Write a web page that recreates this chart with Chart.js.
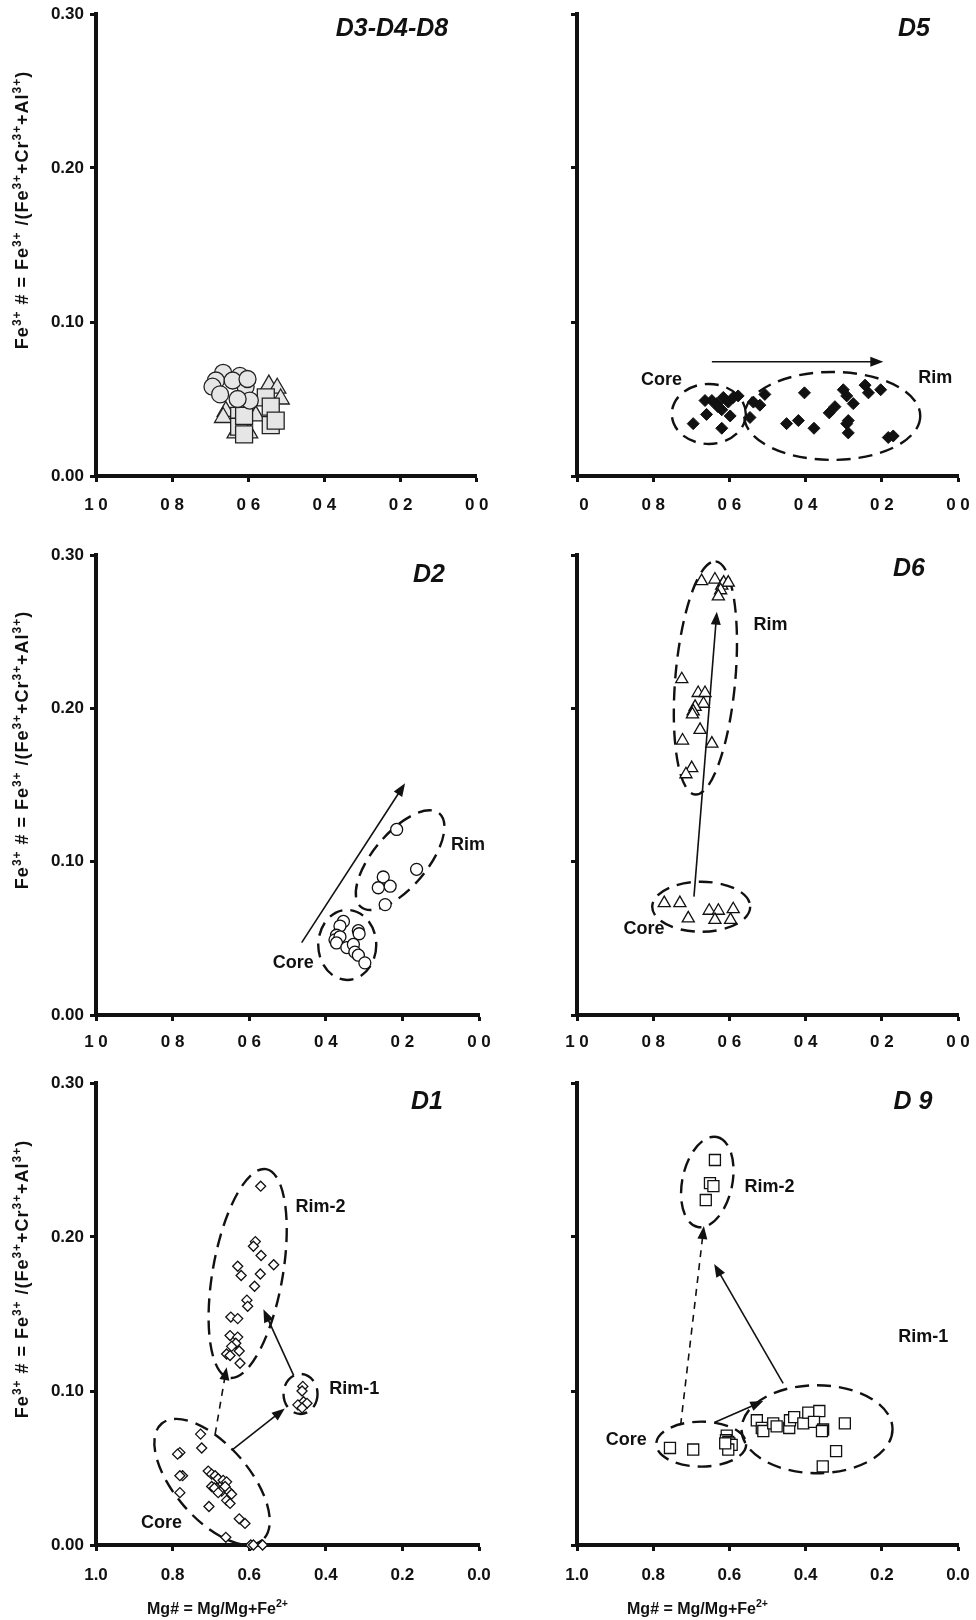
<!DOCTYPE html>
<html>
<head>
<meta charset="utf-8">
<script src="https://cdn.jsdelivr.net/npm/chart.js@4.4.0/dist/chart.umd.min.js"></script>
<style>
  html, body { margin: 0; padding: 0; background: #fff; }
  #wrap { position: relative; width: 976px; height: 1620px; overflow: hidden; }
  canvas { position: absolute; }
</style>
</head>
<body>
<div id="wrap">
  <canvas id="c1"></canvas>
  <canvas id="c2"></canvas>
  <canvas id="c3"></canvas>
  <canvas id="c4"></canvas>
  <canvas id="c5"></canvas>
  <canvas id="c6"></canvas>
</div>
<script>
/* ===== Datos (Mg#, Fe3+#) ===== */
// ticks
const xTickValues = [1.0, 0.8, 0.6, 0.4, 0.2, 0.0];
const xTickLabelsSpaced = ['1 0', '0 8', '0 6', '0 4', '0 2', '0 0'];
const xTickLabelsD5 = ['\u2007 0', '0 8', '0 6', '0 4', '0 2', '0 0'];
const xTickLabelsDot = ['1.0', '0.8', '0.6', '0.4', '0.2', '0.0'];
const yTickValues = [0.0, 0.1, 0.2, 0.3];
const yTickLabels = ['0.00', '0.10', '0.20', '0.30'];

// D3-D4-D8
const d348CircleMg = [0.666, 0.685, 0.694, 0.674, 0.622, 0.607, 0.596, 0.628, 0.641, 0.602];
const d348CircleFe = [0.067, 0.062, 0.058, 0.053, 0.065, 0.058, 0.049, 0.050, 0.062, 0.063];
const d348TriMg = [0.546, 0.524, 0.515, 0.659, 0.633, 0.598, 0.580, 0.666];
const d348TriFe = [0.059, 0.057, 0.050, 0.042, 0.028, 0.028, 0.039, 0.038];
const d348SqMg = [0.554, 0.624, 0.624, 0.611, 0.541, 0.541, 0.528, 0.611];
const d348SqFe = [0.051, 0.039, 0.032, 0.027, 0.045, 0.033, 0.036, 0.039];

// D5
const d5Mg = [0.695, 0.660, 0.664, 0.646, 0.633, 0.616, 0.603, 0.590, 0.577, 0.620, 0.598, 0.620, 0.630,
  0.546, 0.537, 0.520, 0.507, 0.450, 0.419, 0.403, 0.378, 0.338, 0.323, 0.301, 0.292, 0.275, 0.288,
  0.292, 0.288, 0.244, 0.235, 0.203, 0.183, 0.170];
const d5Fe = [0.034, 0.040, 0.049, 0.049, 0.047, 0.051, 0.048, 0.051, 0.052, 0.043, 0.039, 0.031, 0.045,
  0.038, 0.048, 0.046, 0.053, 0.034, 0.036, 0.054, 0.031, 0.041, 0.045, 0.056, 0.052, 0.047, 0.036,
  0.034, 0.028, 0.059, 0.054, 0.056, 0.025, 0.026];

// D2
const d2Mg = [0.215, 0.163, 0.250, 0.232, 0.263, 0.245, 0.354, 0.363, 0.315, 0.313, 0.372, 0.376, 0.363,
  0.372, 0.345, 0.328, 0.324, 0.315, 0.298];
const d2Fe = [0.121, 0.095, 0.090, 0.084, 0.083, 0.072, 0.061, 0.058, 0.055, 0.053, 0.052, 0.049, 0.051,
  0.047, 0.044, 0.046, 0.041, 0.039, 0.034];

// D6
const d6Mg = [0.673, 0.638, 0.620, 0.615, 0.603, 0.623, 0.629, 0.725, 0.682, 0.664, 0.668, 0.690, 0.695,
  0.697, 0.677, 0.723, 0.646, 0.699, 0.714, 0.771, 0.730, 0.708, 0.653, 0.629, 0.638, 0.590, 0.597];
const d6Fe = [0.283, 0.284, 0.280, 0.282, 0.282, 0.277, 0.273, 0.219, 0.210, 0.210, 0.203, 0.201, 0.198,
  0.196, 0.186, 0.179, 0.177, 0.161, 0.157, 0.073, 0.073, 0.063, 0.068, 0.068, 0.062, 0.069, 0.062];

// D1
const d1Mg = [0.570, 0.584, 0.589, 0.569, 0.536, 0.630, 0.621, 0.571, 0.586, 0.606, 0.604, 0.648, 0.630,
  0.650, 0.630, 0.635, 0.646, 0.626, 0.659, 0.650, 0.624,
  0.460, 0.462, 0.458, 0.473, 0.449, 0.462,
  0.727, 0.724, 0.781, 0.787, 0.774, 0.781, 0.781, 0.707, 0.698, 0.689, 0.681, 0.668, 0.659, 0.698,
  0.685, 0.672, 0.654, 0.646, 0.659, 0.650, 0.691, 0.663, 0.681, 0.705, 0.626, 0.611, 0.661, 0.596,
  0.589, 0.565];
const d1Fe = [0.233, 0.197, 0.194, 0.188, 0.182, 0.181, 0.175, 0.176, 0.168, 0.159, 0.155, 0.148, 0.147,
  0.136, 0.135, 0.131, 0.129, 0.126, 0.124, 0.123, 0.118,
  0.103, 0.100, 0.093, 0.091, 0.092, 0.089,
  0.072, 0.063, 0.060, 0.059, 0.045, 0.045, 0.034, 0.048, 0.046, 0.045, 0.043, 0.042, 0.041, 0.038,
  0.037, 0.035, 0.035, 0.033, 0.029, 0.027, 0.037, 0.038, 0.034, 0.025, 0.017, 0.014, 0.005, 0.000,
  0.000, 0.000];

// D9
const d9Mg = [0.756, 0.695, 0.607, 0.609, 0.603, 0.600, 0.594, 0.603, 0.611,
  0.528, 0.515, 0.511, 0.485, 0.476, 0.443, 0.441, 0.430, 0.406, 0.393, 0.364, 0.378, 0.354, 0.357,
  0.297, 0.320, 0.355,
  0.638, 0.651, 0.642, 0.662];
const d9Fe = [0.063, 0.062, 0.071, 0.068, 0.067, 0.066, 0.065, 0.062, 0.066,
  0.081, 0.076, 0.074, 0.079, 0.077, 0.076, 0.081, 0.083, 0.079, 0.086, 0.087, 0.080, 0.075, 0.074,
  0.079, 0.061, 0.051,
  0.250, 0.235, 0.233, 0.224];

/* ===== Estilo ===== */
const FAMILY = '"Liberation Sans", Arial, sans-serif';
const INK = '#111';
const tickFont = { family: FAMILY, size: 17, weight: 'bold' };
const yTitleParts = [['Fe', 0], ['3+', 1], [' # = Fe', 0], ['3+', 1], [' /(Fe', 0], ['3+', 1],
  ['+Cr', 0], ['3+', 1], ['+Al', 0], ['3+', 1], [')', 0]];
const xTitleParts = [['Mg# = Mg/Mg+Fe', 0], ['2+', 1]];

function pts(xs, ys) { return xs.map((x, i) => ({ x: x, y: ys[i] })); }

function drawRich(ctx, parts, cx, cy, size, rotate, spacing) {
  ctx.save();
  ctx.translate(cx, cy);
  if (rotate) ctx.rotate(-Math.PI / 2);
  ctx.fillStyle = INK;
  ctx.textAlign = 'left';
  ctx.textBaseline = 'alphabetic';
  if ('letterSpacing' in ctx) ctx.letterSpacing = spacing || '0px';
  const sup = size * 0.66;
  let w = 0;
  parts.forEach(([t, s]) => { ctx.font = 'bold ' + (s ? sup : size) + 'px ' + FAMILY; w += ctx.measureText(t).width; });
  let x = -w / 2;
  parts.forEach(([t, s]) => {
    ctx.font = 'bold ' + (s ? sup : size) + 'px ' + FAMILY;
    ctx.fillText(t, x, s ? size * 0.36 - size * 0.42 : size * 0.36);
    x += ctx.measureText(t).width;
  });
  ctx.restore();
}

function drawArrow(ctx, x0, y0, x1, y1, dashed) {
  const ang = Math.atan2(y1 - y0, x1 - x0);
  const hl = 13, hw = 5;
  ctx.save();
  ctx.strokeStyle = INK; ctx.fillStyle = INK;
  ctx.lineWidth = 1.6;
  ctx.setLineDash(dashed ? [7, 6] : []);
  ctx.beginPath();
  ctx.moveTo(x0, y0);
  ctx.lineTo(x1 - Math.cos(ang) * hl * 0.8, y1 - Math.sin(ang) * hl * 0.8);
  ctx.stroke();
  ctx.setLineDash([]);
  ctx.beginPath();
  ctx.moveTo(x1, y1);
  ctx.lineTo(x1 - Math.cos(ang) * hl + Math.sin(ang) * hw, y1 - Math.sin(ang) * hl - Math.cos(ang) * hw);
  ctx.lineTo(x1 - Math.cos(ang) * hl - Math.sin(ang) * hw, y1 - Math.sin(ang) * hl + Math.cos(ang) * hw);
  ctx.closePath();
  ctx.fill();
  ctx.restore();
}

/* ===== Anotaciones (elipses, flechas, rótulos) ===== */
const overlay = {
  id: 'overlay',
  beforeDatasetsDraw(chart, args, o) {
    const ctx = chart.ctx, xs = chart.scales.x, ys = chart.scales.y;
    (o.ellipses || []).forEach(e => {
      ctx.save();
      ctx.strokeStyle = INK;
      ctx.lineWidth = 2.4;
      ctx.setLineDash([14, 8]);
      ctx.beginPath();
      ctx.ellipse(xs.getPixelForValue(e.x), ys.getPixelForValue(e.y), e.rx, e.ry, e.rot * Math.PI / 180, 0, Math.PI * 2);
      ctx.stroke();
      ctx.restore();
    });
    (o.arrows || []).forEach(a => {
      drawArrow(ctx, xs.getPixelForValue(a.from[0]), ys.getPixelForValue(a.from[1]),
        xs.getPixelForValue(a.to[0]), ys.getPixelForValue(a.to[1]), a.dashed);
    });
  },
  afterDatasetsDraw(chart, args, o) {
    const ctx = chart.ctx, xs = chart.scales.x, ys = chart.scales.y;
    ctx.save();
    ctx.fillStyle = INK;
    ctx.textAlign = 'center';
    ctx.textBaseline = 'middle';
    ctx.font = 'bold 18px ' + FAMILY;
    (o.labels || []).forEach(l => ctx.fillText(l.text, xs.getPixelForValue(l.x), ys.getPixelForValue(l.y)));
    if (o.title) {
      ctx.font = 'italic bold 25px ' + FAMILY;
      ctx.fillText(o.title.text, o.title.cx, o.title.cy);
    }
    ctx.restore();
  },
  afterDraw(chart, args, o) {
    const ctx = chart.ctx, a = chart.chartArea;
    if (o.yTitle) drawRich(ctx, yTitleParts, 22, (a.top + a.bottom) / 2 - 35, 18, true, '1px');
    if (o.xTitle) drawRich(ctx, xTitleParts, (a.left + a.right) / 2 - 70, a.bottom + 63, 16, false, '0px');
  }
};

function makeChart(id, p) {
  const cv = document.getElementById(id);
  cv.width = p.w; cv.height = p.h;
  cv.style.left = p.left + 'px'; cv.style.top = p.top + 'px';
  cv.style.width = p.w + 'px'; cv.style.height = p.h + 'px';
  return new Chart(cv.getContext('2d'), {
    type: 'scatter',
    data: { datasets: p.datasets },
    plugins: [overlay],
    options: {
      responsive: false,
      animation: false,
      layout: { padding: { top: 14, right: p.padRight, left: 0, bottom: 0 } },
      plugins: {
        legend: { display: false },
        tooltip: { enabled: false },
        overlay: p.overlay
      },
      scales: {
        x: {
          type: 'linear', min: 0, max: 1, reverse: true,
          afterBuildTicks: s => { s.ticks = xTickValues.map(v => ({ value: v })); },
          afterFit: s => { s.height = p.xH; s.paddingLeft = 0; s.paddingRight = 0; },
          ticks: {
            autoSkip: false, maxRotation: 0, padding: p.xPad, color: INK, font: tickFont,
            callback: v => p.xLabels[xTickValues.findIndex(t => Math.abs(t - v) < 1e-6)]
          },
          grid: { drawOnChartArea: false, drawTicks: true, tickLength: 6, tickWidth: 3, tickColor: INK },
          border: { display: true, width: 4, color: INK }
        },
        y: {
          type: 'linear', min: 0, max: 0.3,
          afterBuildTicks: s => { s.ticks = yTickValues.map(v => ({ value: v })); },
          afterFit: s => { s.width = p.yW; s.paddingTop = 0; s.paddingBottom = 0; },
          ticks: {
            padding: 6, color: INK, font: tickFont,
            callback: v => p.yLabels ? yTickLabels[yTickValues.findIndex(t => Math.abs(t - v) < 1e-6)] : ''
          },
          grid: { drawOnChartArea: false, drawTicks: true, tickLength: 6, tickWidth: 3, tickColor: INK },
          border: { display: true, width: 4, color: INK }
        }
      }
    }
  });
}

function openSet(xs, ys, style, r) {
  return { data: pts(xs, ys), pointStyle: style, pointRadius: r, pointBackgroundColor: '#fff',
    pointBorderColor: INK, pointBorderWidth: 1.3, clip: false };
}

document.addEventListener('DOMContentLoaded', function () {
  if (typeof Chart === 'undefined') { console.error('Chart.js no está cargado'); return; }

  const grey = '#e6e6e6';
  // D3-D4-D8
  makeChart('c1', {
    left: 0, top: 0, w: 490, h: 520, xH: 44, xPad: 13, yW: 96, padRight: 11,
    xLabels: xTickLabelsSpaced, yLabels: true,
    datasets: [
      { data: pts(d348CircleMg, d348CircleFe), pointStyle: 'circle', pointRadius: 8.5, pointBackgroundColor: grey, pointBorderColor: '#222', pointBorderWidth: 1.3 },
      { data: pts(d348SqMg, d348SqFe), pointStyle: 'rect', pointRadius: 12, pointBackgroundColor: grey, pointBorderColor: '#222', pointBorderWidth: 1.3 },
      { data: pts(d348TriMg, d348TriFe), pointStyle: 'triangle', pointRadius: 10, pointBackgroundColor: grey, pointBorderColor: '#222', pointBorderWidth: 1.3 }
    ],
    overlay: { title: { text: 'D3-D4-D8', cx: 392, cy: 29 }, yTitle: true }
  });

  // D5
  makeChart('c2', {
    left: 488, top: 0, w: 488, h: 520, xH: 44, xPad: 13, yW: 89, padRight: 18,
    xLabels: xTickLabelsD5, yLabels: false,
    datasets: [
      { data: pts(d5Mg, d5Fe), pointStyle: 'rectRot', pointRadius: 6, pointBackgroundColor: INK, pointBorderColor: INK, pointBorderWidth: 1 }
    ],
    overlay: {
      title: { text: 'D5', cx: 426, cy: 29 },
      ellipses: [{ x: 0.654, y: 0.0403, rx: 37, ry: 30, rot: 0 }, { x: 0.330, y: 0.039, rx: 88, ry: 44, rot: 0 }],
      arrows: [{ from: [0.646, 0.0742], to: [0.196, 0.0742] }],
      labels: [{ text: 'Core', x: 0.778, y: 0.0623 }, { text: 'Rim', x: 0.060, y: 0.0634 }]
    }
  });

  // D2
  makeChart('c3', {
    left: 0, top: 541, w: 490, h: 520, xH: 46, xPad: 11, yW: 96, padRight: 11,
    xLabels: xTickLabelsSpaced, yLabels: true,
    datasets: [openSet(d2Mg, d2Fe, 'circle', 6)],
    overlay: {
      title: { text: 'D2', cx: 429, cy: 34 }, yTitle: true,
      ellipses: [{ x: 0.344, y: 0.0457, rx: 29, ry: 35, rot: 0 }, { x: 0.206, y: 0.101, rx: 61, ry: 27, rot: -50 }],
      arrows: [{ from: [0.463, 0.0472], to: [0.193, 0.1511] }],
      labels: [{ text: 'Core', x: 0.485, y: 0.0337 }, { text: 'Rim', x: 0.029, y: 0.111 }]
    }
  });

  // D6
  makeChart('c4', {
    left: 488, top: 541, w: 488, h: 520, xH: 46, xPad: 11, yW: 89, padRight: 18,
    xLabels: xTickLabelsSpaced, yLabels: false,
    datasets: [openSet(d6Mg, d6Fe, 'triangle', 7)],
    overlay: {
      title: { text: 'D6', cx: 421, cy: 28 },
      ellipses: [{ x: 0.663, y: 0.2198, rx: 117, ry: 30, rot: -85 }, { x: 0.674, y: 0.0706, rx: 49, ry: 25, rot: 0 }],
      arrows: [{ from: [0.693, 0.0772], to: [0.633, 0.263] }],
      labels: [{ text: 'Core', x: 0.824, y: 0.0558 }, { text: 'Rim', x: 0.492, y: 0.2543 }]
    }
  });

  // D1
  makeChart('c5', {
    left: 0, top: 1069, w: 490, h: 551, xH: 75, xPad: 14, yW: 96, padRight: 11,
    xLabels: xTickLabelsDot, yLabels: true,
    datasets: [openSet(d1Mg, d1Fe, 'rectRot', 5)],
    overlay: {
      title: { text: 'D1', cx: 427, cy: 33 }, yTitle: true, xTitle: true,
      ellipses: [{ x: 0.604, y: 0.1763, rx: 106, ry: 35, rot: -80 }, { x: 0.466, y: 0.0981, rx: 17, ry: 20, rot: 0 },
        { x: 0.697, y: 0.041, rx: 77, ry: 37, rot: 49 }],
      arrows: [{ from: [0.689, 0.0719], to: [0.659, 0.1155], dashed: true }, { from: [0.646, 0.0615], to: [0.507, 0.0886] },
        { from: [0.484, 0.1102], to: [0.563, 0.1531] }],
      labels: [{ text: 'Core', x: 0.829, y: 0.0144 }, { text: 'Rim-1', x: 0.326, y: 0.1016 }, { text: 'Rim-2', x: 0.414, y: 0.2193 }]
    }
  });

  // D9
  makeChart('c6', {
    left: 488, top: 1069, w: 488, h: 551, xH: 75, xPad: 14, yW: 89, padRight: 18,
    xLabels: xTickLabelsDot, yLabels: false,
    datasets: [openSet(d9Mg, d9Fe, 'rect', 7.8)],
    overlay: {
      title: { text: 'D 9', cx: 425, cy: 33 }, xTitle: true,
      ellipses: [{ x: 0.674, y: 0.0655, rx: 45, ry: 22.5, rot: 0 }, { x: 0.370, y: 0.0752, rx: 75.5, ry: 44, rot: 0 },
        { x: 0.658, y: 0.2357, rx: 46, ry: 25, rot: -78 }],
      arrows: [{ from: [0.728, 0.0779], to: [0.667, 0.2071], dashed: true }, { from: [0.638, 0.0797], to: [0.511, 0.0935] },
        { from: [0.459, 0.105], to: [0.640, 0.1825] }],
      labels: [{ text: 'Core', x: 0.871, y: 0.0682 }, { text: 'Rim-1', x: 0.091, y: 0.1353 }, { text: 'Rim-2', x: 0.495, y: 0.2323 }]
    }
  });
});
</script>
</body>
</html>
